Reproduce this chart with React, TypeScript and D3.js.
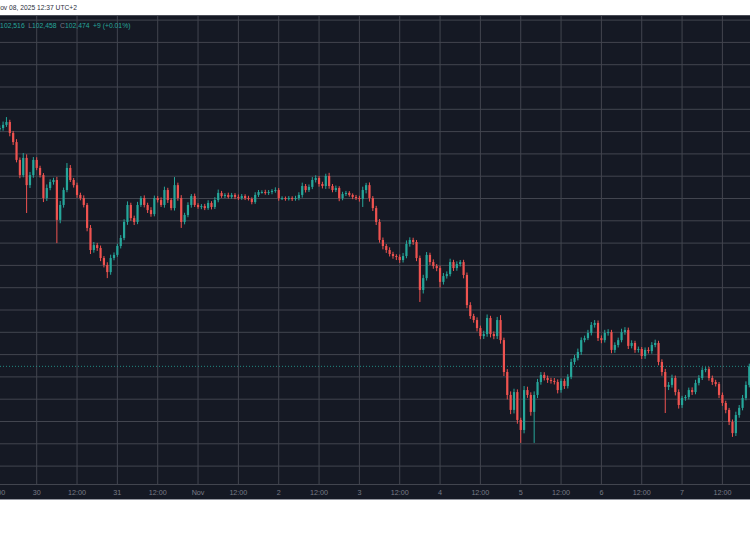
import React from 'react';
import * as d3 from 'd3';

// Hourly closes (USD), starting Oct 29 13:00 (UTC+2)
const closes = [
  113160, 113300, 113430, 112940, 112530, 111730, 111050, 111820, 110600, 111050, 111730, 111370,
  111050, 110020, 110470, 110740, 110830, 109040, 109710, 110380, 111370, 110830, 110600, 110160,
  110020, 109710, 108680, 107690, 107910, 107780, 107330, 107020, 106700, 107330, 107470, 107870,
  108230, 108950, 109710, 109120, 108950, 109710, 110020, 109710, 109480, 109300, 110020, 109930,
  109710, 110380, 109930, 109570, 110600, 110020, 108950, 109260, 109710, 110110, 109710, 109620,
  109660, 109570, 109800, 109620, 109930, 110250, 110110, 110160, 110070, 110160, 110070, 110020,
  110110, 110020, 109980, 109840, 110160, 110290, 110290, 110250, 110290, 110340, 110380, 110020,
  110020, 109980, 110020, 109980, 110020, 110160, 110560, 110380, 110520, 110830, 110920, 110650,
  110560, 111010, 110560, 110380, 110470, 110020, 110200, 110250, 110160, 110070, 110020, 109980,
  110380, 110600, 110020, 109570, 108950, 108140, 107870, 107690, 107510, 107420, 107380, 107240,
  107420, 107960, 108140, 108050, 107330, 105900, 106430, 107470, 107150, 106970, 106880, 106260,
  106520, 106610, 107150, 106880, 107060, 107150, 106570, 105220, 104730, 104550, 104190, 103830,
  103920, 104640, 103920, 103830, 104550, 103650, 102220, 101190, 100520, 101320, 100070, 99620,
  101410, 101190, 100430, 101190, 101770, 102090, 101950, 101860, 101820, 101770, 101410, 101820,
  101590, 102000, 102670, 102850, 103120, 103650, 103740, 103970, 104330, 104420, 103740, 103650,
  103970, 104010, 103210, 103430, 103650, 104010, 104100, 103390, 103520, 103210, 103250, 102940,
  103210, 103160, 103430, 103520, 102670, 102220, 101550, 101640, 101950, 101320, 100740, 101050,
  101100, 101410, 101320, 101730, 101950, 102310, 102350, 101950, 101770, 101680, 101190, 100830,
  100520, 99980, 99480, 100290, 100610, 101050, 101640, 102474,
];

// Upper wick above the body (USD)
const upperWicks = [
  120, 150, 220, 100, 90, 130, 110, 220, 160, 140, 130, 120,
  100, 90, 160, 120, 100, 140, 180, 110, 220, 130, 90, 110,
  100, 120, 90, 130, 140, 100, 110, 90, 120, 150, 110, 100,
  130, 120, 160, 100, 110, 140, 90, 120, 100, 130, 110, 90,
  120, 150, 100, 90, 360, 110, 130, 100, 120, 90, 110, 80,
  90, 100, 120, 80, 130, 150, 90, 80, 100, 90, 80, 110,
  90, 80, 100, 70, 120, 90, 80, 100, 90, 80, 120, 90,
  80, 70, 90, 80, 100, 120, 150, 90, 110, 130, 120, 90,
  100, 100, 140, 90, 110, 80, 100, 90, 80, 70, 90, 100,
  150, 100, 120, 90, 100, 130, 110, 90, 120, 100, 80, 110,
  140, 160, 120, 100, 90, 110, 150, 130, 100, 120, 90, 110,
  140, 120, 150, 100, 120, 90, 100, 110, 130, 100, 120, 110,
  150, 160, 100, 120, 140, 220, 110, 130, 160, 150, 120, 100,
  180, 150, 120, 160, 140, 130, 120, 110, 100, 130, 120, 110,
  100, 120, 140, 130, 150, 120, 110, 140, 130, 130, 110, 120,
  140, 130, 100, 120, 110, 150, 130, 110, 120, 100, 110, 90,
  110, 120, 130, 150, 100, 120, 140, 130, 150, 110, 120, 100,
  90, 110, 120, 140, 130, 120, 90, 100, 110, 100, 90, 110,
  100, 90, 110, 150, 130, 140, 160, 120,
];

// Lower wick below the body (USD)
const lowerWicks = [
  100, 120, 90, 150, 130, 110, 140, 100, 1250, 130, 120, 100,
  110, 180, 130, 100, 120, 1040, 150, 120, 100, 90, 110, 130,
  100, 110, 150, 180, 120, 130, 140, 110, 270, 120, 100, 90,
  110, 100, 130, 120, 140, 100, 90, 110, 130, 120, 100, 110,
  90, 120, 130, 100, 110, 120, 270, 110, 100, 120, 90, 80,
  100, 90, 80, 110, 90, 100, 80, 90, 70, 80, 100, 90,
  80, 90, 70, 100, 80, 90, 70, 80, 90, 100, 80, 120,
  90, 80, 70, 90, 80, 100, 120, 110, 90, 100, 110, 120,
  110, 130, 120, 100, 90, 140, 100, 90, 80, 100, 90, 120,
  360, 150, 160, 130, 140, 120, 150, 130, 110, 120, 140, 130,
  110, 100, 120, 130, 140, 540, 160, 110, 130, 120, 140, 250,
  120, 110, 100, 130, 120, 110, 150, 140, 130, 120, 150, 140,
  130, 120, 150, 140, 130, 160, 180, 200, 190, 160, 170, 580,
  150, 130, 170, 1390, 140, 120, 110, 130, 120, 110, 150, 120,
  130, 110, 100, 120, 110, 130, 100, 90, 110, 120, 130, 140,
  110, 120, 150, 130, 110, 100, 120, 140, 110, 130, 120, 140,
  130, 110, 120, 100, 150, 170, 1170, 140, 120, 150, 160, 130,
  120, 110, 130, 100, 110, 90, 100, 120, 130, 110, 140, 130,
  150, 140, 170, 130, 120, 110, 100, 110,
];

const firstOpen = 113100;
const firstCandleTime = Date.UTC(2025, 9, 29, 13); // local time (UTC+2) stored as UTC
const tickLabels = [
  '12:00', '30', '12:00', '31', '12:00', 'Nov', '12:00', '2', '12:00', '3', '12:00',
  '4', '12:00', '5', '12:00', '6', '12:00', '7', '12:00',
];
const firstTickTime = Date.UTC(2025, 9, 29, 12);
const priceLevels = d3.range(98000, 118001, 1000);
const lastPrice = 102474;
const headerText = 'Nov 08, 2025 12:37 UTC+2';
const legendItems = [
  { key: 'H', value: '102,516' },
  { key: 'L', value: '102,458' },
  { key: 'C', value: '102,474' },
];
const legendChange = '+9 (+0.01%)';

const HOUR = 3600 * 1000;
const UP = '#26a69a';
const DOWN = '#ef5350';
const GRID = '#42454f';

export default function App() {
  const W = 750;
  const H = 536;
  const panelTop = 15;
  const axisY = 484;
  const panelBottom = 500;

  const x = d3
    .scaleUtc()
    .domain([Date.UTC(2025, 9, 30, 0), Date.UTC(2025, 10, 7, 12)])
    .range([36.7, 722.4]);
  const y = d3.scaleLinear().domain([102000, 118000]).range([376.9, 20.1]);

  const candles = closes.map((c, i) => {
    const o = i === 0 ? firstOpen : closes[i - 1];
    const hi = Math.max(o, c) + upperWicks[i];
    const lo = Math.min(o, c) - lowerWicks[i];
    return { t: firstCandleTime + i * HOUR, o, c, hi, lo };
  });

  const ticks = tickLabels.map((label, i) => ({ label, t: firstTickTime + i * 12 * HOUR }));
  const bodyW = 2.2;
  const font = "'Liberation Sans', Arial, sans-serif";

  return (
    <svg
      width={W}
      height={H}
      style={{ position: 'absolute', left: 0, top: 0, background: '#ffffff' }}
      fontFamily={font}
    >
      <defs>
        <clipPath id="plot">
          <rect x={0} y={panelTop + 1} width={W} height={axisY - panelTop - 1} />
        </clipPath>
      </defs>
      <rect x={0} y={0} width={W} height={H} fill="#ffffff" />
      <text x={-4.7} y={10} fontSize={6.7} fill="#2a2e39">
        {headerText}
      </text>
      <rect x={0} y={panelTop} width={W} height={panelBottom - panelTop} fill="#151924" />
      <line x1={0} x2={W} y1={panelTop + 0.5} y2={panelTop + 0.5} stroke="#4a4d57" />
      <g clipPath="url(#plot)">
        {priceLevels.map((p) => (
          <line key={p} x1={0} x2={W} y1={y(p)} y2={y(p)} stroke={GRID} strokeWidth={1} />
        ))}
        {ticks.map((tk) => (
          <line
            key={tk.t}
            x1={x(tk.t)}
            x2={x(tk.t)}
            y1={panelTop}
            y2={axisY}
            stroke={GRID}
            strokeWidth={1}
          />
        ))}
        <line
          x1={0}
          x2={W}
          y1={y(lastPrice)}
          y2={y(lastPrice)}
          stroke={UP}
          strokeWidth={1}
          strokeDasharray="1,2"
          opacity={0.8}
        />
        {candles.map((d) => {
          const cx = x(d.t);
          const col = d.c >= d.o ? UP : DOWN;
          const top = y(Math.max(d.o, d.c));
          const bot = y(Math.min(d.o, d.c));
          return (
            <g key={d.t}>
              <line x1={cx} x2={cx} y1={y(d.hi)} y2={y(d.lo)} stroke={col} strokeWidth={1} />
              <rect
                x={cx - bodyW / 2}
                y={top}
                width={bodyW}
                height={Math.max(1, bot - top)}
                fill={col}
              />
            </g>
          );
        })}
      </g>
      <text y={27.5} fontSize={6.8}>
        {legendItems.map((it, i) => (
          <React.Fragment key={it.key}>
            <tspan x={i === 0 ? -4.8 : undefined} dx={i === 0 ? 0 : 3.5} fill="#787b86">
              {it.key}
            </tspan>
            <tspan fill={UP}>{it.value}</tspan>
          </React.Fragment>
        ))}
        <tspan dx={3.5} fill={UP}>
          {legendChange}
        </tspan>
      </text>
      <line x1={0} x2={W} y1={axisY + 0.5} y2={axisY + 0.5} stroke={GRID} />
      {ticks.map((tk) => (
        <text
          key={'l' + tk.t}
          x={x(tk.t)}
          y={495}
          fontSize={7.2}
          fill="#787b86"
          textAnchor="middle"
        >
          {tk.label}
        </text>
      ))}
      <line x1={0} x2={W} y1={panelBottom - 0.5} y2={panelBottom - 0.5} stroke="#9598a1" />
    </svg>
  );
}
